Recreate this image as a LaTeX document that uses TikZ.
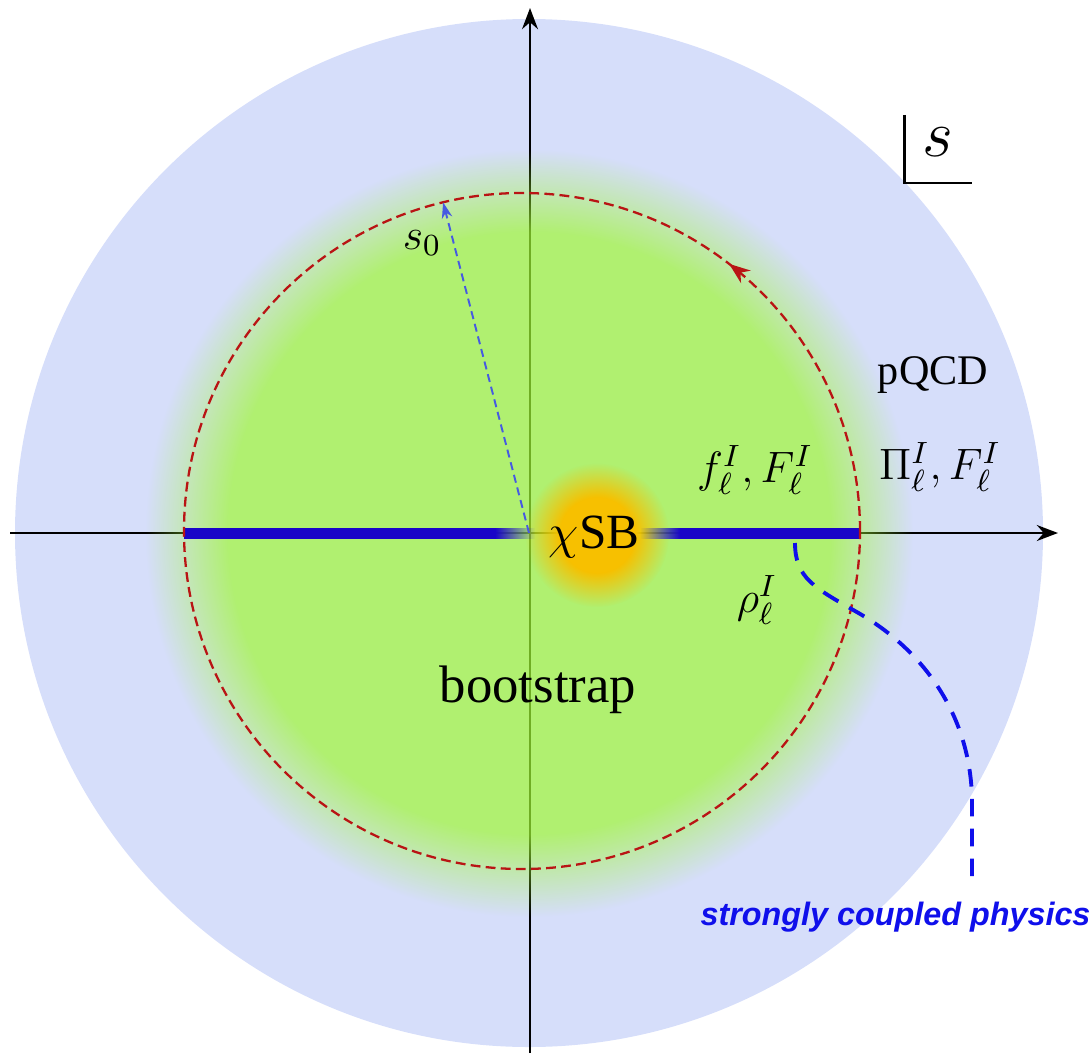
\RequirePackage{fix-cm}
\documentclass[tikz,border=0pt]{standalone}
\usepackage{fontspec}
\setmainfont{Liberation Serif}
\newfontfamily\physsans{Liberation Sans}
\usepackage{amsmath, amssymb}
\usetikzlibrary{arrows.meta, positioning, calc, decorations.markings, fadings}
\definecolor{diskblue}{RGB}{214, 222, 250}
\definecolor{lowgreen}{RGB}{160, 248, 53}
\definecolor{sbyellow}{RGB}{247, 192, 0}
\definecolor{cutblue}{RGB}{25, 5, 200}
\definecolor{contourred}{RGB}{185, 20, 20}
\definecolor{radiusblue}{RGB}{70, 90, 225}
\definecolor{strongblue}{RGB}{15, 15, 235}

\pgfdeclareradialshading{greenedge}{\pgfpointorigin}{color(0bp)=(pgftransparent!30); color(19.2bp)=(pgftransparent!30); color(24.5bp)=(pgftransparent!100); color(50bp)=(pgftransparent!100)}
\pgfdeclarefading{greenfade}{\pgfuseshading{greenedge}}
\pgfdeclareradialshading{blobedge}{\pgfpointorigin}{color(0bp)=(pgftransparent!0); color(13bp)=(pgftransparent!0); color(25bp)=(pgftransparent!100); color(50bp)=(pgftransparent!100)}
\pgfdeclarefading{blobfade}{\pgfuseshading{blobedge}}
\tikzfading[name=fade out right, left color=transparent!0, right color=transparent!100]
\tikzfading[name=fade in right, left color=transparent!100, right color=transparent!0]

\tikzset{
  axis/.style={line width=0.8pt, black, -{Stealth[length=6pt, width=4.5pt]}},
  contour/.style={contourred, line width=0.65pt, dash pattern=on 2.8pt off 1.5pt},
  radius arrow/.style={radiusblue, line width=0.55pt, dash pattern=on 2.3pt off 1.4pt, -{Stealth[length=4.5pt, width=3pt]}},
  strong curve/.style={strongblue, line width=1.1pt, dash pattern=on 5pt off 3.5pt},
  mathlbl/.style={inner sep=1pt, font=\fontsize{12.5}{15}\selectfont},
  textlbl/.style={inner sep=1pt, font=\fontsize{12}{14}\selectfont}
}

\begin{document}
\begin{tikzpicture}
  \useasboundingbox (0,0) rectangle (10.92,10.53);
  \coordinate (O) at (5.29,5.20);
  \coordinate (C) at (5.22,5.22);
  \coordinate (xleft) at (0.10,5.20);
  \coordinate (xright) at (10.58,5.20);
  \coordinate (ybottom) at (5.30,0);
  \coordinate (ytop) at (5.30,10.45);

  \fill[diskblue] (O) circle (5.14);
  \draw[axis] (xleft) -- (xright);
  \draw[axis] (ybottom) -- (ytop);
  \fill[lowgreen, path fading=greenfade] (O) circle (3.9);
  \fill[sbyellow, path fading=blobfade] (5.97,5.18) circle (0.72);

  % cuts on the real axis
  \fill[cutblue] (1.84,5.145) rectangle (4.95,5.255);
  \fill[cutblue, path fading=fade out right] (4.95,5.145) rectangle (5.35,5.255);
  \fill[cutblue, path fading=fade in right] (6.40,5.145) rectangle (6.80,5.255);
  \fill[cutblue] (6.80,5.145) rectangle (8.60,5.255);

  \draw[contour, postaction={decorate}, decoration={markings, mark=at position 0.145 with {\arrow{Stealth[length=6pt, width=4.5pt]}}}] (C) circle (3.38);
  \coordinate (rim) at ($(C)+(103.5:3.38)$);
  \draw[radius arrow] (O) -- (rim);

  \node[mathlbl] (szero) at (4.22,8.10) {$s_0$};
  \node[inner sep=1pt, font=\fontsize{14}{17}\selectfont] (chisb) at (5.94,5.16) {$\chi$SB};
  \node[mathlbl] (fF) at (7.55,5.83) {$f_\ell^I, F_\ell^I$};
  \node[mathlbl] (rho) at (7.57,4.53) {$\rho_\ell^I$};
  \node[textlbl] (pqcd) at (9.33,6.78) {pQCD};
  \node[mathlbl] (PiF) at (9.40,5.86) {$\Pi_\ell^I, F_\ell^I$};
  \node[inner sep=1pt, font=\fontsize{15}{18}\selectfont] (boot) at (5.38,3.63) {bootstrap};

  \node[inner sep=1pt, font=\fontsize{19}{22}\selectfont] (svar) at (9.38,9.11) {$s$};
  \coordinate (cornertop) at (9.04,9.38);
  \coordinate (cornerright) at (9.72,8.70);
  \draw[line width=0.85pt] (cornertop) |- (cornerright);

  \coordinate (cutpt) at (7.95,5.10);
  \coordinate (scptop) at (9.72,1.73);
  \node[strongblue, inner sep=1pt, font=\physsans\bfseries\itshape\fontsize{9.2}{11}\selectfont] (scp) at (8.955,1.36) {strongly coupled physics};
  \draw[strong curve] (cutpt) .. controls (7.95,4.75) and (8.15,4.65) .. (8.55,4.42)
    .. controls (9.3,4.0) and (9.72,3.3) .. (9.72,2.5) -- (scptop);
\end{tikzpicture}
\end{document}
